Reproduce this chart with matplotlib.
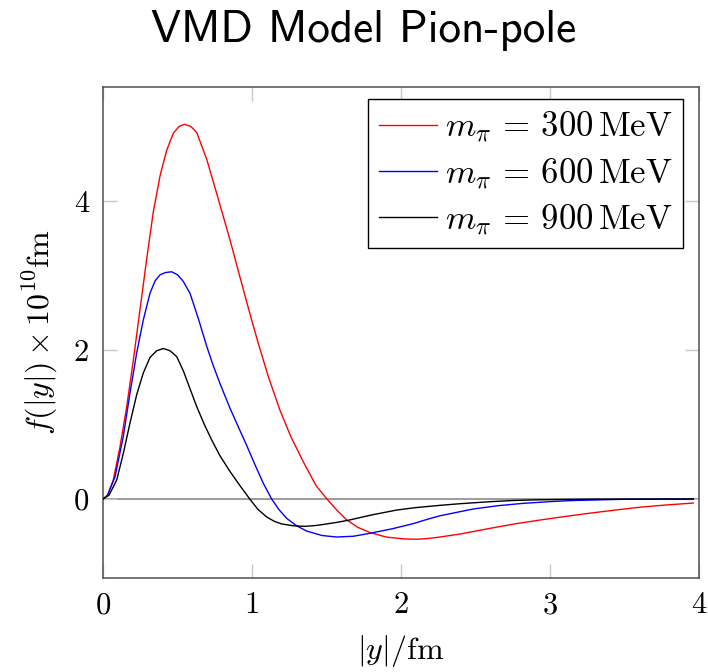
import numpy as np
import matplotlib
matplotlib.use('Agg')
import matplotlib.pyplot as plt

plt.rcParams['mathtext.fontset'] = 'cm'

# values
x_300 = [0, 0.03, 0.069, 0.114, 0.159, 0.204, 0.248, 0.293, 0.338, 0.383, 0.427,
         0.472, 0.51, 0.546, 0.59, 0.629, 0.696, 0.763, 0.852, 0.919, 0.98,
         1.042, 1.11, 1.188, 1.26, 1.344, 1.43, 1.503, 1.57, 1.635, 1.71,
         1.792, 1.90, 2.016, 2.105, 2.18, 2.262, 2.396, 2.597, 2.76, 2.933,
         3.1, 3.268, 3.43, 3.604, 3.78, 3.962]
y_300 = [0, 0.05, 0.255, 0.70, 1.24, 1.87, 2.54, 3.22, 3.86, 4.34, 4.68,
         4.91, 5.0, 5.03, 5.0, 4.92, 4.56, 4.10, 3.48, 2.98, 2.53,
         2.09, 1.64, 1.19, 0.84, 0.50, 0.18, 0.0, -0.15, -0.28, -0.38,
         -0.45, -0.51, -0.535, -0.54, -0.53, -0.51, -0.47, -0.394, -0.335, -0.282,
         -0.235, -0.19, -0.15, -0.11, -0.08, -0.054]

x_600 = [0, 0.03, 0.081, 0.136, 0.181, 0.226, 0.270, 0.315, 0.35, 0.383, 0.42,
         0.461, 0.50, 0.539, 0.584, 0.64, 0.696, 0.74, 0.785, 0.852, 0.91,
         0.964, 1.02, 1.076, 1.132, 1.18, 1.233, 1.3, 1.367, 1.47, 1.568,
         1.68, 1.792, 1.94, 2.083, 2.18, 2.262, 2.396, 2.485, 2.65, 2.821,
         3.0, 3.157, 3.49, 3.962]
y_600 = [0, 0.05, 0.30, 0.84, 1.42, 1.96, 2.40, 2.76, 2.93, 3.01, 3.04,
         3.05, 3.01, 2.92, 2.76, 2.42, 2.05, 1.79, 1.55, 1.22, 0.96,
         0.72, 0.46, 0.21, 0.0, -0.14, -0.26, -0.36, -0.43, -0.49, -0.51,
         -0.50, -0.46, -0.40, -0.33, -0.27, -0.225, -0.17, -0.134, -0.09, -0.058,
         -0.035, -0.02, -0.004, 0.0]

x_900 = [0, 0.04, 0.092, 0.136, 0.181, 0.226, 0.270, 0.315, 0.36, 0.405, 0.45,
         0.495, 0.539, 0.584, 0.629, 0.68, 0.73, 0.785, 0.852, 0.919, 0.985,
         1.04, 1.098, 1.15, 1.2, 1.28, 1.356, 1.43, 1.5, 1.58, 1.658,
         1.8, 1.971, 2.1, 2.262, 2.396, 2.597, 2.75, 2.93, 3.3, 3.962]
y_900 = [0, 0.05, 0.255, 0.61, 1.02, 1.40, 1.69, 1.90, 1.99, 2.02, 1.99,
         1.91, 1.72, 1.48, 1.24, 1.00, 0.79, 0.58, 0.37, 0.18, 0.0,
         -0.14, -0.24, -0.30, -0.335, -0.36, -0.367, -0.355, -0.335, -0.31, -0.28,
         -0.215, -0.148, -0.115, -0.085, -0.063, -0.036, -0.02, -0.01, -0.002, 0.0]

labels = [r'$m_\pi\,=\,300\,\mathrm{MeV}$', r'$m_\pi\,=\,600\,\mathrm{MeV}$',
          r'$m_\pi\,=\,900\,\mathrm{MeV}$']
colors = ['red', 'blue', 'black']

xticks = [0, 1, 2, 3, 4]
yticks = [0, 2, 4]

fig = plt.figure(figsize=(7.08, 6.72), dpi=100)
fig.subplots_adjust(left=0.1455, right=0.9873, top=0.8705, bottom=0.1399)
ax = fig.add_subplot(1, 1, 1)

ax.axhline(0, color='#808080', lw=1.1, zorder=1)
for xs, ys, c, lab in zip([x_300, x_600, x_900], [y_300, y_600, y_900], colors, labels):
    ax.plot(xs, ys, color=c, lw=1.0, label=lab, zorder=3)

ax.set_xlim(0, 4)
ax.set_ylim(-1.06, 5.53)
ax.set_xticks(xticks, labels=[str(t) for t in xticks])
ax.set_yticks(yticks, labels=[str(t) for t in yticks])
ax.tick_params(direction='in', length=10, width=1, color='#c8c8c8',
               top=True, right=True, labelsize=22, pad=10)
for lab in ax.get_xticklabels() + ax.get_yticklabels():
    lab.set_fontfamily('cmr10')
for sp in ax.spines.values():
    sp.set_color('#505050')
    sp.set_linewidth(1.1)

ax.set_xlabel(r'$|y|/\mathrm{fm}$', fontsize=23, labelpad=10)
ax.set_ylabel(r'$f(|y|)\times10^{10}\mathrm{fm}$', fontsize=23, labelpad=10)

leg = ax.legend(loc='upper right', bbox_to_anchor=(0.973, 0.9756), borderaxespad=0,
                fontsize=25, fancybox=False, edgecolor='black', framealpha=1,
                handlelength=1.68, handletextpad=0.23, labelspacing=0.3,
                borderpad=0.3)
leg.get_frame().set_linewidth(1.0)

fig.text(0.513, 0.955, 'VMD Model Pion-pole', family='cmss10', fontsize=32.5,
         ha='center', va='center')

fig.savefig('out.png', dpi=100)
